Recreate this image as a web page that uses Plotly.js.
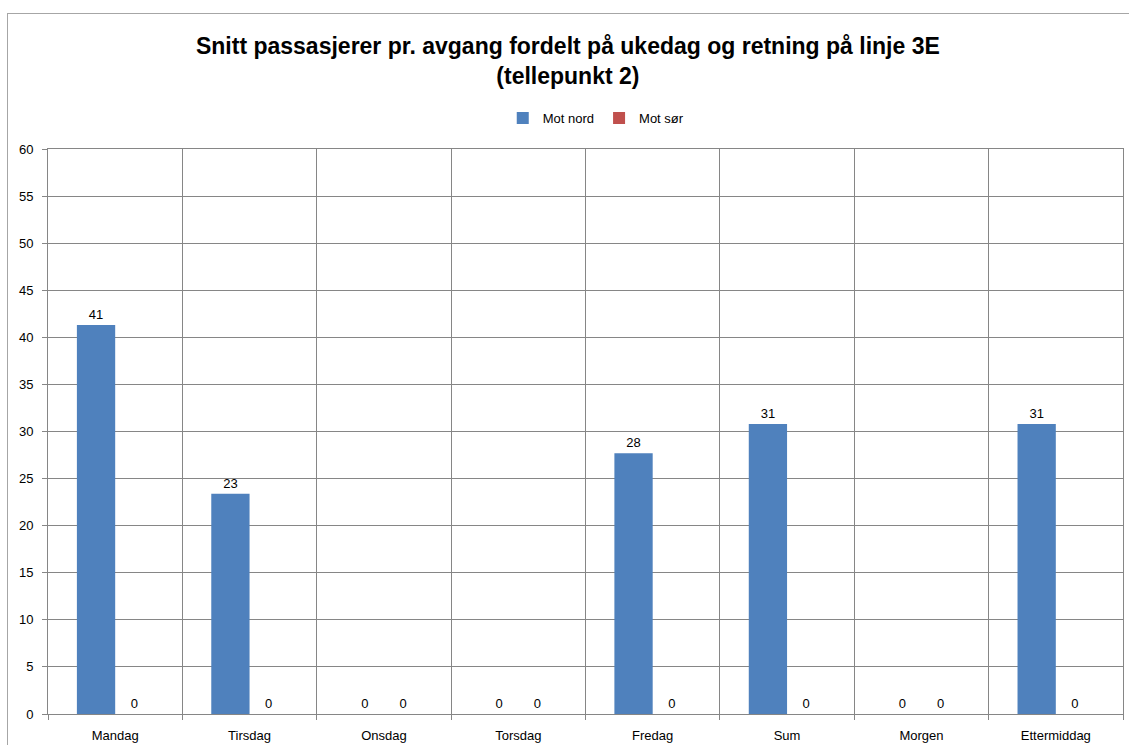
<!DOCTYPE html>
<html><head><meta charset="utf-8">
<script src="https://cdn.plot.ly/plotly-3.0.1.min.js"></script>
<style>
body{margin:0;padding:0;background:#fff;}
#chart{position:absolute;left:0;top:0;width:1129px;height:745px;}
#frame{position:absolute;left:7px;top:13px;width:1140px;height:760px;border:1px solid #a6a6a6;pointer-events:none;}
</style></head>
<body>
<div id="chart"></div>
<div id="frame"></div>
<script>
const categories = ["Mandag","Tirsdag","Onsdag","Torsdag","Fredag","Sum","Morgen","Ettermiddag"];
const motNord = [41.3, 23.4, 0, 0, 27.7, 30.8, 0, 30.8];
const motSor = [0, 0, 0, 0, 0, 0, 0, 0];
const yTicks = [0,5,10,15,20,25,30,35,40,45,50,55,60];

const fam = "Liberation Sans, Arial, sans-serif";
const font = {family: fam, size: 13, color: "#000"};

const traces = [
  {type:"bar", name:"Mot nord", x:categories, y:motNord, marker:{color:"#4F81BD"},
   texttemplate:"%{y:.0f}", textposition:"outside", cliponaxis:false,
   textfont:{family:fam, size:13, color:"#000"}, hoverinfo:"x+y"},
  {type:"bar", name:"Mot sør", x:categories, y:motSor, marker:{color:"#C0504D"},
   texttemplate:"%{y:.0f}", textposition:"outside", cliponaxis:false,
   textfont:{family:fam, size:13, color:"#000"}, hoverinfo:"x+y"}
];

const layout = {
  width:1129, height:745,
  margin:{l:48, r:6, t:149, b:31},
  paper_bgcolor:"rgba(0,0,0,0)", plot_bgcolor:"#fff",
  font: font,
  title:{text:"Snitt passasjerer pr. avgang fordelt på ukedag og retning på linje 3E<br>(tellepunkt 2)",
         x:0.503, xanchor:"center", yref:"container", y:1-54/745, yanchor:"middle",
         font:{family:fam, size:23, color:"#000", weight:"bold"}},
  barmode:"group", bargap:0.43, bargroupgap:0,
  showlegend:true,
  legend:{orientation:"h", x:0.51, xanchor:"center", y:1.055, yanchor:"middle",
          font:{family:fam, size:13, color:"#000"}, traceorder:"normal"},
  xaxis:{type:"category", tickson:"boundaries", showgrid:true, gridcolor:"#868686", gridwidth:1,
         ticks:"outside", ticklen:5, tickcolor:"#868686", showline:true, linecolor:"#868686", mirror:true,
         ticklabelstandoff:9,
         tickfont:{family:fam, size:13, color:"#000"}, zeroline:false},
  yaxis:{range:[0,60], tickvals:yTicks, showgrid:true, gridcolor:"#868686", gridwidth:1,
         ticks:"outside", ticklen:5, tickcolor:"#868686", showline:true, linecolor:"#868686", mirror:true,
         ticklabelstandoff:6,
         tickfont:{family:fam, size:13, color:"#000"}, zeroline:false}
};

Plotly.newPlot("chart", traces, layout, {displayModeBar:false, staticPlot:true});
</script>
</body></html>
